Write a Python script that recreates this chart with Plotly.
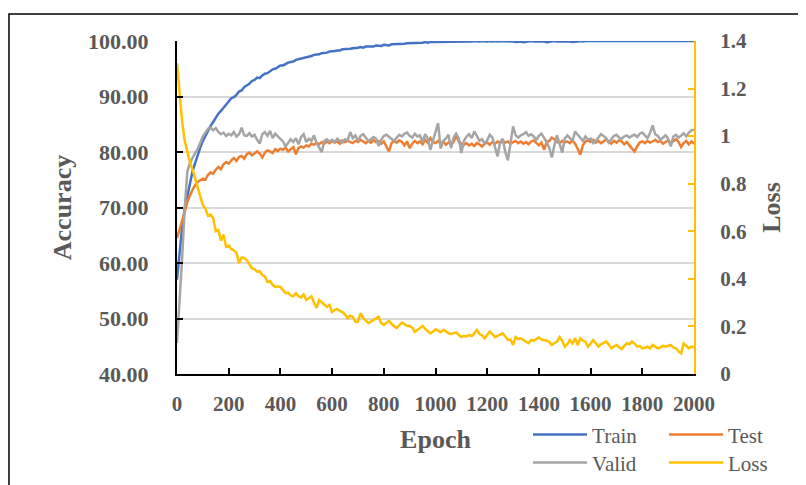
import plotly.graph_objects as go

# ---------------- data ----------------
epochs = list(range(0, 2001, 10))

train = [
    57.0, 62.5, 66.5, 69.8, 72.2, 74.5, 76.5, 78.0, 79.5, 80.8,
    82.0, 83.0, 83.8, 84.7, 85.4, 86.2, 86.9, 87.4, 88.0, 88.6,
    89.2, 89.7, 89.9, 90.3, 90.9, 91.1, 91.7, 92.0, 92.3, 92.8,
    93.0, 93.4, 93.3, 93.8, 94.1, 94.2, 94.6, 94.9, 95.0, 95.3,
    95.6, 95.6, 95.9, 96.1, 96.2, 96.3, 96.6, 96.7, 96.8, 96.9,
    97.1, 97.1, 97.3, 97.5, 97.5, 97.6, 97.8, 97.8, 97.9, 98.1,
    98.1, 98.2, 98.3, 98.3, 98.5, 98.5, 98.5, 98.6, 98.7, 98.7,
    98.8, 98.9, 98.8, 99.0, 99.0, 99.1, 99.0, 99.2, 99.2, 99.1,
    99.3, 99.3, 99.2, 99.4, 99.4, 99.5, 99.4, 99.5, 99.5, 99.6,
    99.6, 99.6, 99.7, 99.6, 99.7, 99.7, 99.8, 99.7, 99.8, 99.8,
    99.8, 99.8, 99.9, 99.8, 99.9, 99.9, 99.9, 99.8, 99.9, 99.9,
    99.9, 99.9, 99.8, 99.9, 99.9, 100.0, 99.9, 99.9, 100.0, 99.9,
    99.9, 100.0, 99.9, 100.0, 99.9, 100.0, 100.0, 99.9, 100.0, 100.0,
    99.9, 99.8, 99.9, 99.9, 99.8, 99.9, 99.9, 100.0, 99.9, 99.9,
    100.0, 99.9, 99.9, 99.8, 99.9, 99.9, 100.0, 99.9, 99.9, 100.0,
    99.9, 100.0, 99.9, 99.8, 99.8, 99.9, 100.0, 99.9, 100.0, 100.0,
    100.0, 100.0, 99.9, 100.0, 100.0, 100.0, 99.9, 100.0, 100.0, 100.0,
    100.0, 99.9, 100.0, 100.0, 100.0, 100.0, 100.0, 99.9, 100.0, 100.0,
    100.0, 100.0, 100.0, 99.9, 100.0, 100.0, 100.0, 100.0, 100.0, 99.9,
    100.0, 100.0, 100.0, 100.0, 100.0, 99.9, 100.0, 100.0, 100.0, 100.0,
    100.0,
]

test = [
    64.5, 66.0, 67.8, 69.2, 71.0, 72.2, 73.2, 74.0, 74.6, 74.9,
    75.2, 75.0, 75.9, 76.3, 76.1, 76.8, 77.3, 76.9, 77.8, 78.2,
    77.9, 78.5, 78.9, 78.4, 79.1, 79.3, 78.8, 79.6, 79.9, 79.4,
    79.8, 80.1, 79.7, 79.0, 79.9, 80.3, 80.1, 79.8, 80.5, 80.2,
    80.6, 80.4, 80.8, 80.1, 80.5, 80.9, 79.6, 80.7, 81.0, 80.8,
    81.2, 81.0, 81.5, 81.3, 81.7, 81.4, 81.8, 81.5, 81.9, 81.6,
    82.0, 81.7, 81.9, 81.5, 82.1, 81.8, 82.0, 81.8, 81.6, 82.0,
    81.8, 82.2, 81.9, 81.6, 82.0, 81.7, 82.1, 81.8, 82.0, 81.5,
    81.9, 80.9, 80.1, 81.6, 82.0, 81.7, 82.1, 81.8, 81.2, 81.9,
    80.7, 81.5, 82.0, 81.6, 81.9, 81.4, 82.2, 81.7, 82.5, 81.8,
    81.6, 82.0, 81.5, 81.9, 81.3, 81.7, 81.4, 81.8, 83.0, 81.9,
    81.5, 81.3, 81.6, 81.2, 81.5, 81.1, 81.6, 81.4, 81.0, 81.5,
    81.7, 81.3, 81.8, 81.5, 81.9, 81.6, 82.0, 81.7, 81.9, 81.5,
    81.8, 82.0, 81.6, 81.9, 81.5, 81.8, 81.4, 81.9, 82.1, 81.6,
    81.2, 81.7, 80.4, 81.8, 82.0, 82.6, 82.3, 81.8, 81.6, 82.0,
    81.7, 81.9, 81.6, 82.1, 81.5, 80.6, 79.5, 81.2, 81.9, 82.1,
    81.8, 82.2, 81.7, 82.0, 81.6, 81.9, 82.3, 81.8, 81.5, 82.0,
    81.7, 82.1, 81.9, 81.4, 81.8, 81.2, 80.6, 80.1, 81.0, 81.7,
    81.9, 81.6, 82.0, 81.7, 81.9, 82.2, 81.8, 82.0, 81.5, 81.8,
    82.1, 81.6, 81.9, 82.3, 81.8, 80.9, 81.6, 82.0, 81.4, 81.9,
    81.5,
]

valid = [
    45.6, 53.0, 61.0, 70.0, 76.5, 78.0, 79.0, 79.8, 80.5, 81.8,
    82.8, 83.5, 84.2, 84.4, 83.9, 84.3, 83.6, 83.2, 83.5, 82.9,
    83.3, 83.0, 83.6, 82.8, 83.2, 84.4, 83.0, 82.9, 83.4, 82.8,
    83.1, 82.2, 81.5, 83.2, 83.6, 82.9, 83.8, 82.5, 83.3, 82.8,
    82.4, 81.9, 81.0, 81.6, 82.3, 81.8, 82.5, 81.4, 82.7, 83.2,
    81.8, 82.4, 82.0, 83.0, 81.6, 80.8, 80.0, 82.0, 82.3, 81.9,
    82.2, 81.8, 82.4, 82.0, 81.7, 82.3, 82.1, 83.6, 82.5, 83.0,
    82.0, 82.9, 83.2, 82.6, 82.0, 82.3, 82.7, 82.4, 81.1, 82.2,
    82.9, 83.1, 82.7, 82.3, 82.0, 82.6, 83.1, 82.8, 83.3, 83.5,
    82.9, 82.6, 83.3, 82.8, 83.0, 81.8, 83.2, 82.5, 80.4, 82.0,
    83.8, 85.2, 80.6, 82.0, 82.4, 83.1, 80.7, 82.6, 83.3, 82.5,
    79.8, 82.0, 82.8, 83.2, 82.5, 83.7, 82.9, 82.0, 82.3, 81.5,
    82.1, 83.1, 82.6, 81.0, 79.2, 81.8, 82.4, 80.0, 78.5, 81.5,
    84.6, 83.0, 82.6, 83.0, 83.2, 83.6, 82.9, 83.2, 82.8, 82.2,
    82.9, 83.3, 82.6, 81.8, 80.8, 79.0, 81.2, 83.0, 81.5, 79.9,
    82.4, 83.0, 82.5, 82.0, 83.7, 83.1, 82.7, 82.0, 82.8, 82.2,
    82.4, 81.6, 82.0, 82.6, 83.2, 82.9, 82.5, 81.7, 82.4, 82.9,
    83.1, 82.6, 82.4, 82.8, 83.0, 82.6, 82.9, 83.1, 82.7, 83.3,
    83.5, 82.9, 82.5, 83.4, 84.8, 83.2, 82.9, 82.2, 82.6, 83.0,
    82.4, 81.0, 82.8, 83.1, 82.6, 82.9, 83.4, 82.8, 83.5, 83.9,
    84.0,
]

loss = [
    1.306, 1.17, 1.06, 0.98, 0.93, 0.89, 0.86, 0.82, 0.78, 0.75,
    0.71, 0.695, 0.665, 0.67, 0.655, 0.60, 0.605, 0.56, 0.585, 0.535,
    0.54, 0.525, 0.52, 0.51, 0.466, 0.49, 0.487, 0.479, 0.462, 0.445,
    0.44, 0.43, 0.432, 0.416, 0.41, 0.387, 0.39, 0.375, 0.366, 0.368,
    0.366, 0.352, 0.34, 0.342, 0.33, 0.327, 0.34, 0.327, 0.322, 0.334,
    0.311, 0.318, 0.327, 0.30, 0.278, 0.311, 0.30, 0.29, 0.282, 0.29,
    0.26, 0.27, 0.273, 0.265, 0.26, 0.25, 0.235, 0.245, 0.24, 0.22,
    0.22, 0.256, 0.235, 0.225, 0.214, 0.22, 0.227, 0.235, 0.24, 0.215,
    0.206, 0.215, 0.224, 0.21, 0.20, 0.193, 0.205, 0.216, 0.21, 0.202,
    0.202, 0.195, 0.177, 0.185, 0.191, 0.202, 0.19, 0.18, 0.171, 0.178,
    0.188, 0.182, 0.176, 0.185, 0.18, 0.171, 0.168, 0.172, 0.174, 0.165,
    0.155, 0.16, 0.158, 0.164, 0.16, 0.171, 0.185, 0.168, 0.162, 0.15,
    0.165, 0.178, 0.168, 0.155, 0.16, 0.165, 0.171, 0.158, 0.143, 0.145,
    0.122, 0.155, 0.147, 0.15, 0.142, 0.136, 0.13, 0.143, 0.14, 0.148,
    0.153, 0.145, 0.143, 0.14, 0.135, 0.122, 0.13, 0.136, 0.155, 0.14,
    0.115, 0.125, 0.143, 0.129, 0.15, 0.122, 0.15, 0.14, 0.136, 0.115,
    0.128, 0.143, 0.13, 0.115, 0.125, 0.13, 0.136, 0.125, 0.108, 0.115,
    0.122, 0.112, 0.104, 0.118, 0.129, 0.125, 0.136, 0.128, 0.115, 0.118,
    0.108, 0.11, 0.115, 0.108, 0.122, 0.115, 0.108, 0.112, 0.118, 0.115,
    0.118, 0.122, 0.112, 0.108, 0.095, 0.087, 0.129, 0.118, 0.108, 0.115,
    0.112,
]

x_ticks = [0, 200, 400, 600, 800, 1000, 1200, 1400, 1600, 1800, 2000]
acc_ticks = [40, 50, 60, 70, 80, 90, 100]
loss_ticks = [0, 0.2, 0.4, 0.6, 0.8, 1.0, 1.2, 1.4]
loss_tick_labels = ["0", "0.2", "0.4", "0.6", "0.8", "1", "1.2", "1.4"]

# ---------------- style ----------------
FONT = "Liberation Serif, 'Times New Roman', serif"
TXT = "#595959"
C_TRAIN, C_TEST, C_VALID, C_LOSS = "#4472C4", "#ED7D31", "#A5A5A5", "#FFC000"

fig = go.Figure()
fig.add_trace(go.Scatter(x=epochs, y=train, name="Train", mode="lines",
                         line=dict(color=C_TRAIN, width=2.5), legend="legend"))
fig.add_trace(go.Scatter(x=epochs, y=test, name="Test", mode="lines",
                         line=dict(color=C_TEST, width=2.5), legend="legend"))
fig.add_trace(go.Scatter(x=epochs, y=valid, name="Valid", mode="lines",
                         line=dict(color=C_VALID, width=2.5), legend="legend2"))
fig.add_trace(go.Scatter(x=epochs, y=loss, name="Loss", mode="lines", yaxis="y2",
                         line=dict(color=C_LOSS, width=2.5), legend="legend2"))

tickfont = dict(family=FONT, size=21, color=TXT, weight="bold")
ytickfont = dict(family=FONT, size=22, color=TXT, weight="bold")
titlefont = dict(family=FONT, size=26, color=TXT, weight="bold")
legfont = dict(family=FONT, size=21, color=TXT)

fig.update_layout(
    width=806, height=485,
    margin=dict(l=169, r=120, t=33, b=119, autoexpand=False),
    paper_bgcolor="white", plot_bgcolor="white",
    showlegend=True,
    xaxis=dict(
        range=[0, 2000], tickvals=x_ticks, ticks="inside", ticklen=6, tickwidth=2,
        tickcolor="black", showline=True, linecolor="black", linewidth=2,
        showgrid=False, zeroline=False, tickfont=tickfont, ticklabelstandoff=10,
        automargin=False,
        title=dict(text="Epoch", font=titlefont, standoff=15),
    ),
    yaxis=dict(
        range=[40, 100], tickvals=acc_ticks, tickformat=".2f", ticks="inside",
        ticklen=6, tickwidth=2, tickcolor="black", showline=True, linecolor="black",
        linewidth=2, showgrid=True, gridcolor="#D9D9D9", gridwidth=1.5,
        zeroline=False, tickfont=ytickfont, ticklabelstandoff=22, automargin=False,
        title=dict(text="Accuracy", font=titlefont, standoff=9),
    ),
    yaxis2=dict(
        range=[0, 1.4], overlaying="y", side="right", tickvals=loss_ticks,
        ticktext=loss_tick_labels, ticks="inside", ticklen=6, tickwidth=2,
        tickcolor=C_LOSS, showline=True, linecolor=C_LOSS, linewidth=2,
        showgrid=False, zeroline=False, tickfont=tickfont, ticklabelstandoff=20,
        automargin=False,
        title=dict(text="Loss", font=titlefont, standoff=16),
    ),
    legend=dict(orientation="h", x=0.679, xanchor="left", y=-0.183, yanchor="middle",
                font=legfont, entrywidth=67, bgcolor="rgba(0,0,0,0)", itemwidth=54),
    legend2=dict(orientation="h", x=0.679, xanchor="left", y=-0.267, yanchor="middle",
                 font=legfont, entrywidth=67, bgcolor="rgba(0,0,0,0)", itemwidth=54),
    shapes=[dict(type="rect", xref="paper", yref="paper",
                 x0=-0.325, x1=1.25, y0=-0.40, y1=1.081,
                 line=dict(color="black", width=1.5), fillcolor="rgba(0,0,0,0)",
                 layer="below")],
)

fig.write_html("out.html")
